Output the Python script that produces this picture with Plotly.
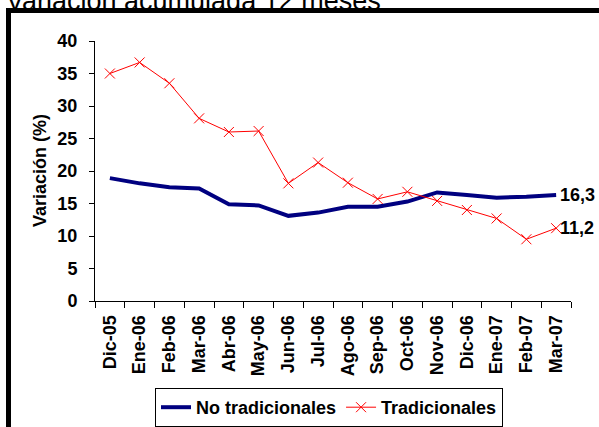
import plotly.graph_objects as go

categories = ["Dic-05", "Ene-06", "Feb-06", "Mar-06", "Abr-06", "May-06", "Jun-06", "Jul-06",
              "Ago-06", "Sep-06", "Oct-06", "Nov-06", "Dic-06", "Ene-07", "Feb-07", "Mar-07"]
no_tradicionales = [18.9, 18.1, 17.5, 17.3, 14.9, 14.7, 13.1, 13.6, 14.5, 14.5, 15.3, 16.7, 16.3, 15.9, 16.05, 16.3]
tradicionales = [35.0, 36.7, 33.5, 28.1, 26.0, 26.15, 18.1, 21.3, 18.2, 15.7, 16.8, 15.4, 14.0, 12.7, 9.5, 11.2]
y_ticks = [0, 5, 10, 15, 20, 25, 30, 35, 40]

W, H = 599, 427
L, R, T, B = 95, 571, 41, 301  # plot area in pixels

def px_x(p):
    return (p - L) / (R - L)

def px_y(p):
    return (B - p) / (B - T)

FONT = "Liberation Sans, Arial, sans-serif"

fig = go.Figure()
fig.add_trace(go.Scatter(
    x=categories, y=no_tradicionales, name="No tradicionales", mode="lines",
    line=dict(color="#000080", width=4), cliponaxis=False))
fig.add_trace(go.Scatter(
    x=categories, y=tradicionales, name="Tradicionales", mode="lines+markers",
    line=dict(color="#FF0000", width=1),
    marker=dict(symbol="x-thin-open", size=10, color="#FF0000", line=dict(color="#FF0000", width=1)),
    cliponaxis=False))

def fmt(v):
    return f"{v:.1f}".replace(".", ",")

for series in (no_tradicionales, tradicionales):
    fig.add_annotation(x=categories[-1], y=series[-1], text=fmt(series[-1]), showarrow=False,
                       xanchor="left", yanchor="middle", xshift=2,
                       font=dict(family=FONT, size=18, color="black", weight="bold"))

# axis title
fig.add_annotation(xref="paper", yref="paper", x=px_x(40), y=px_y(171), text="Variación (%)",
                   textangle=-90, showarrow=False, xanchor="center", yanchor="middle",
                   font=dict(family=FONT, size=18, color="black", weight="bold"))
# cut-off top title
fig.add_annotation(xref="paper", yref="paper", x=px_x(4), y=px_y(18), text="Variación acumulada 12 meses",
                   showarrow=False, xanchor="left", yanchor="bottom",
                   font=dict(family=FONT, size=27, color="black"))

# thick black frame (top and left)
fig.add_shape(type="rect", xref="paper", yref="paper", x0=px_x(6), x1=px_x(620), y0=px_y(13), y1=px_y(8),
              fillcolor="black", line=dict(width=0), layer="above")
fig.add_shape(type="rect", xref="paper", yref="paper", x0=px_x(6), x1=px_x(11), y0=px_y(450), y1=px_y(8),
              fillcolor="black", line=dict(width=0), layer="above")

fig.update_layout(
    width=W, height=H,
    margin=dict(l=L, r=W - R, t=T, b=H - B, pad=0, autoexpand=False),
    paper_bgcolor="white", plot_bgcolor="white",
    font=dict(family=FONT, color="black"),
    showlegend=True,
    legend=dict(orientation="h", xref="container", yref="container",
                x=155 / W, y=1 - 388 / H, xanchor="left", yanchor="top",
                bordercolor="black", borderwidth=1, bgcolor="white",
                font=dict(family=FONT, size=18, color="black", weight="bold"),
                itemwidth=30, tracegroupgap=0),
)
fig.update_xaxes(
    type="category", range=[-0.5, len(categories) - 0.5], automargin=False,
    showline=True, linecolor="black", linewidth=1,
    ticks="outside", tickson="boundaries", ticklen=6, tickcolor="black", tickwidth=1,
    tickangle=-90, tickfont=dict(family=FONT, size=18, color="black", weight="bold"),
    showgrid=False, zeroline=False, ticklabelstandoff=6)
fig.update_yaxes(
    range=[0, 40], tickvals=y_ticks, automargin=False,
    showline=True, linecolor="black", linewidth=1,
    ticks="outside", ticklen=5, tickcolor="black", tickwidth=1,
    tickfont=dict(family=FONT, size=18, color="black", weight="bold"),
    showgrid=False, zeroline=False, ticklabelstandoff=8)

fig.write_html("out.html", config={"displayModeBar": False},
               post_script="document.body.style.margin='0';document.body.style.overflow='hidden';")
